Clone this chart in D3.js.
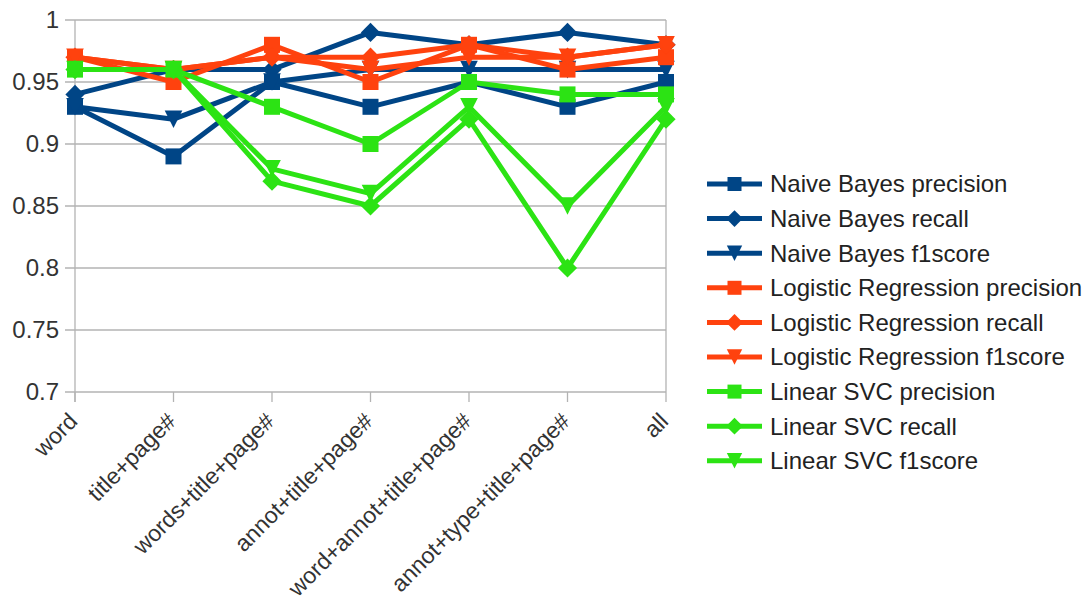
<!DOCTYPE html>
<html><head><meta charset="utf-8">
<script src="https://cdn.jsdelivr.net/npm/d3@7"></script>
<style>body{margin:0;background:#fff;} text{font-family:"Liberation Sans",Arial,sans-serif;}</style>
</head><body><svg id="c" width="1088" height="608"></svg>
<script>
const categories = ["word","title+page#","words+title+page#","annot+title+page#","word+annot+title+page#","annot+type+title+page#","all"];
const yTicks = [0.7,0.75,0.8,0.85,0.9,0.95,1];
const seriesNames = ["Naive Bayes precision","Naive Bayes recall","Naive Bayes f1score","Logistic Regression precision","Logistic Regression recall","Logistic Regression f1score","Linear SVC precision","Linear SVC recall","Linear SVC f1score"];
const nbPrecision = [0.93,0.89,0.95,0.93,0.95,0.93,0.95];
const nbRecall    = [0.94,0.96,0.96,0.99,0.98,0.99,0.98];
const nbF1        = [0.93,0.92,0.95,0.96,0.96,0.96,0.96];
const lrPrecision = [0.97,0.95,0.98,0.95,0.98,0.96,0.97];
const lrRecall    = [0.97,0.96,0.97,0.97,0.98,0.97,0.98];
const lrF1        = [0.97,0.96,0.97,0.96,0.97,0.97,0.98];
const svcPrecision= [0.96,0.96,0.93,0.90,0.95,0.94,0.94];
const svcRecall   = [0.96,0.96,0.87,0.85,0.92,0.80,0.92];
const svcF1       = [0.96,0.96,0.88,0.86,0.93,0.85,0.93];
const colors = ["#004586","#004586","#004586","#ff420e","#ff420e","#ff420e","#2ce314","#2ce314","#2ce314"];
const shapes = ["square","diamond","down","square","diamond","down","square","diamond","down"];
const values = [nbPrecision,nbRecall,nbF1,lrPrecision,lrRecall,lrF1,svcPrecision,svcRecall,svcF1];

const svg = d3.select("#c");
const L=75,R=666,T=20,B=392;
const x = d3.scalePoint().domain(categories).range([L,R]).padding(0);
const y = d3.scaleLinear().domain([0.7,1]).range([B,T]);
const grid="#b3b3b3";
const FS=24;

svg.append("g").selectAll("line").data(yTicks).join("line")
  .attr("x1",L-10).attr("x2",R).attr("y1",d=>y(d)).attr("y2",d=>y(d))
  .attr("stroke",grid).attr("stroke-width",1.3);
svg.append("line").attr("x1",R).attr("x2",R).attr("y1",T).attr("y2",B).attr("stroke",grid).attr("stroke-width",1.3);
svg.append("line").attr("x1",L).attr("x2",L).attr("y1",T).attr("y2",B+10).attr("stroke",grid).attr("stroke-width",1.3);
svg.append("g").selectAll("line").data(categories).join("line")
  .attr("x1",d=>x(d)).attr("x2",d=>x(d)).attr("y1",B).attr("y2",B+10)
  .attr("stroke",grid).attr("stroke-width",1.3);
svg.append("g").selectAll("text").data(yTicks).join("text")
  .attr("x",L-16).attr("y",d=>y(d)).attr("dy","0.35em").attr("text-anchor","end")
  .attr("font-size",FS).attr("fill","#333").text(d=>d3.format("")(d));
svg.append("g").selectAll("text").data(categories).join("text")
  .attr("transform",d=>`translate(${x(d)-2},${B+25}) rotate(-45)`)
  .attr("text-anchor","end").attr("dy","0.35em").attr("font-size",23).attr("fill","#333").text(d=>d);

function marker(g, shape, cx, cy, color, s){
  if(shape==="square"){
    g.append("rect").attr("x",cx-s/2).attr("y",cy-s/2).attr("width",s).attr("height",s).attr("fill",color);
  } else if(shape==="diamond"){
    const h=s*0.6;
    g.append("path").attr("d",`M${cx},${cy-h}L${cx+h},${cy}L${cx},${cy+h}L${cx-h},${cy}Z`).attr("fill",color);
  } else {
    const h=s*0.55;
    g.append("path").attr("d",`M${cx-h},${cy-h}L${cx+h},${cy-h}L${cx},${cy+h}Z`).attr("fill",color);
  }
}
const line = d3.line().x((d,i)=>x(categories[i])).y(d=>y(d));
values.forEach((vals,k)=>{
  const g=svg.append("g");
  g.append("path").attr("d",line(vals)).attr("fill","none").attr("stroke",colors[k]).attr("stroke-width",5).attr("stroke-linejoin","round");
  vals.forEach((v,i)=>marker(g,shapes[k],x(categories[i]),y(v),colors[k],16));
});

const lg = svg.append("g");
seriesNames.forEach((n,k)=>{
  const cy = 184 + k*34.6;
  lg.append("line").attr("x1",707).attr("x2",762).attr("y1",cy).attr("y2",cy).attr("stroke",colors[k]).attr("stroke-width",5);
  marker(lg,shapes[k],734.5,cy,colors[k],14);
  lg.append("text").attr("x",770).attr("y",cy).attr("dy","0.35em").attr("font-size",FS).attr("fill","#222").text(n);
});
</script></body></html>
